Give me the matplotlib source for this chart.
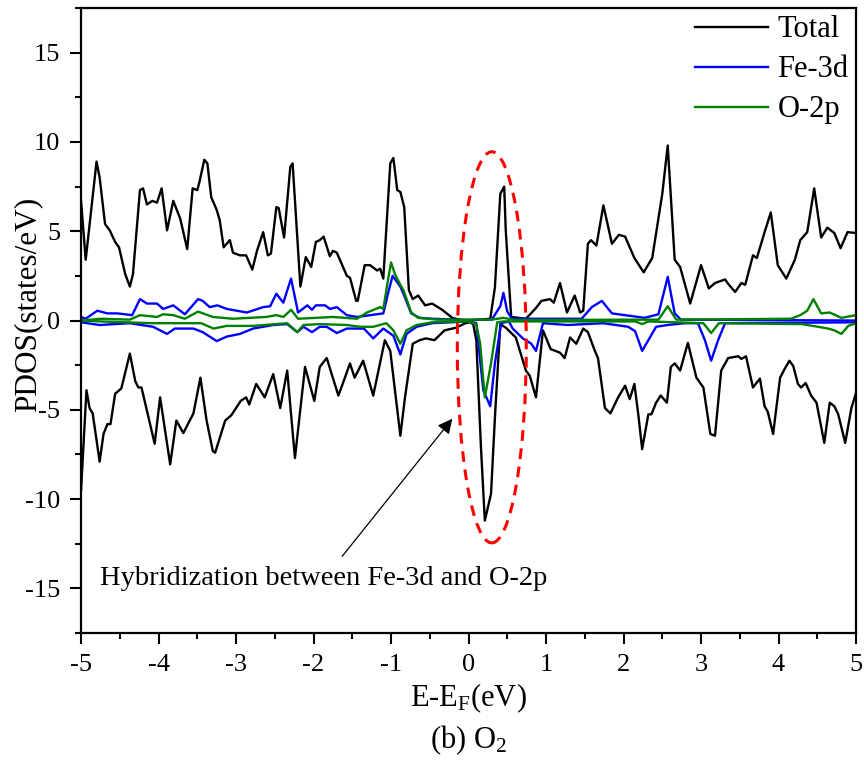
import numpy as np
import matplotlib
matplotlib.use("Agg")
import matplotlib.pyplot as plt
import matplotlib.ticker as mticker
from matplotlib.patches import Ellipse

plt.rcParams['font.family'] = ['Liberation Serif', 'DejaVu Serif']
plt.rcParams['mathtext.fontset'] = 'custom'
plt.rcParams['mathtext.rm'] = 'Liberation Serif'
plt.rcParams['mathtext.it'] = 'Liberation Serif:italic'

# ── Total DOS, spin up ─────────────────────────────────────────────
e_tot_up = [-5.00, -4.94, -4.80, -4.76, -4.69, -4.63, -4.56, -4.51, -4.43, -4.37,
            -4.33, -4.24, -4.20, -4.15, -4.08, -4.02, -3.96, -3.89, -3.81, -3.72,
            -3.63, -3.56, -3.50, -3.47, -3.41, -3.37, -3.32, -3.25, -3.21, -3.16,
            -3.08, -3.04, -2.95, -2.87, -2.79, -2.73, -2.65, -2.59, -2.55, -2.48,
            -2.45, -2.38, -2.30, -2.27, -2.17, -2.10, -2.03, -1.97, -1.92, -1.87,
            -1.79, -1.75, -1.70, -1.57, -1.53, -1.45, -1.43, -1.34, -1.27, -1.18,
            -1.14, -1.10, -1.01, -0.97, -0.92, -0.88, -0.83, -0.77, -0.72, -0.65,
            -0.56, -0.47, -0.34, -0.21, -0.10, 0.00, 0.28, 0.34, 0.41, 0.46,
            0.48, 0.55, 0.74, 0.87, 0.94, 1.05, 1.10, 1.18, 1.27, 1.37,
            1.44, 1.48, 1.54, 1.58, 1.65, 1.74, 1.85, 1.94, 2.02, 2.14,
            2.26, 2.37, 2.50, 2.57, 2.66, 2.73, 2.86, 3.00, 3.10, 3.18,
            3.31, 3.36, 3.44, 3.52, 3.57, 3.67, 3.72, 3.82, 3.90, 3.99,
            4.10, 4.21, 4.28, 4.37, 4.46, 4.55, 4.63, 4.72, 4.80, 4.89, 5.00]
tot_up = [6.7, 3.4, 8.9, 8.0, 5.4, 5.05, 4.4, 4.1, 2.6, 1.9,
          2.6, 7.3, 7.4, 6.5, 6.7, 6.6, 7.4, 5.05, 6.7, 5.7,
          4.0, 7.4, 7.3, 7.8, 9.0, 8.8, 6.9, 6.2, 5.6, 4.1,
          4.5, 3.8, 3.65, 3.65, 2.85, 3.9, 4.95, 3.65, 3.75, 6.35,
          6.3, 4.65, 8.6, 8.8, 1.9, 3.55, 3.0, 4.4, 4.5, 4.7,
          3.6, 3.9, 3.8, 2.5, 2.4, 1.1, 1.1, 3.1, 3.1, 2.8,
          2.9, 2.35, 8.8, 9.1, 7.3, 7.2, 6.35, 1.7, 1.2, 1.4,
          0.85, 0.95, 0.6, 0.15, 0.03, 0.0, 0.1, 1.85, 7.1, 7.5,
          5.05, 0.2, 0.1, 0.7, 1.1, 1.2, 1.0, 2.1, 0.45, 1.4,
          0.45, 0.55, 4.3, 4.5, 4.2, 6.45, 4.3, 4.8, 4.7, 3.5,
          2.7, 3.5, 7.1, 9.8, 3.4, 3.0, 0.95, 3.1, 1.8, 2.1,
          2.3, 2.0, 1.6, 2.1, 2.0, 3.65, 3.5, 4.95, 6.05, 3.1,
          2.35, 3.4, 4.5, 4.95, 7.4, 4.65, 5.2, 4.9, 4.05, 4.95, 4.9]

# ── Total DOS, spin down ───────────────────────────────────────────
e_tot_dn = [-5.00, -4.93, -4.89, -4.85, -4.76, -4.71, -4.66, -4.62, -4.56, -4.48,
            -4.37, -4.30, -4.26, -4.22, -4.05, -3.98, -3.85, -3.77, -3.68, -3.55,
            -3.46, -3.38, -3.30, -3.27, -3.14, -3.06, -2.94, -2.87, -2.83, -2.74,
            -2.63, -2.52, -2.43, -2.34, -2.24, -2.11, -1.99, -1.92, -1.83, -1.68,
            -1.62, -1.53, -1.47, -1.36, -1.23, -1.08, -1.01, -0.88, -0.82, -0.72,
            -0.63, -0.55, -0.44, -0.31, -0.16, -0.04, 0.02, 0.06, 0.10, 0.16,
            0.21, 0.29, 0.34, 0.41, 0.48, 0.61, 0.74, 0.79, 0.87, 0.96,
            1.06, 1.18, 1.24, 1.31, 1.39, 1.48, 1.54, 1.63, 1.67, 1.76,
            1.83, 1.93, 2.02, 2.08, 2.14, 2.19, 2.24, 2.32, 2.36, 2.42,
            2.48, 2.56, 2.61, 2.66, 2.73, 2.83, 2.94, 3.03, 3.12, 3.18,
            3.26, 3.35, 3.48, 3.52, 3.58, 3.67, 3.76, 3.82, 3.86, 3.93,
            4.02, 4.08, 4.14, 4.19, 4.25, 4.29, 4.35, 4.42, 4.49, 4.59,
            4.66, 4.72, 4.77, 4.86, 4.94, 5.00]
tot_dn = [-9.5, -3.9, -4.9, -5.2, -7.9, -6.35, -5.8, -5.8, -4.1, -3.8,
          -1.85, -3.4, -3.75, -3.75, -6.9, -4.3, -8.05, -5.6, -6.3, -5.2,
          -3.2, -5.6, -7.3, -7.4, -5.6, -5.3, -4.5, -4.3, -4.7, -3.55,
          -4.3, -3.0, -4.9, -2.8, -7.7, -2.6, -4.5, -2.6, -2.1, -4.2,
          -3.5, -2.4, -3.2, -2.25, -4.2, -1.1, -1.7, -6.45, -4.3, -1.3,
          -1.1, -1.0, -1.1, -0.55, -0.4, -0.15, -0.1, -0.2, -1.1, -7.1,
          -11.2, -9.7, -5.45, -0.2, -0.4, -0.95, -2.8, -3.1, -4.3, -0.55,
          -1.6, -1.8, -2.1, -0.95, -1.3, -0.45, -0.65, -1.7, -2.1, -4.9,
          -5.2, -4.3, -3.65, -4.4, -3.55, -5.25, -7.2, -5.25, -5.25, -4.6,
          -4.2, -4.6, -2.6, -2.4, -2.8, -1.25, -3.2, -3.75, -6.35, -6.45,
          -2.8, -2.1, -2.0, -2.15, -2.0, -3.75, -3.25, -4.8, -5.1, -6.35,
          -3.2, -2.7, -2.25, -2.55, -3.55, -3.75, -3.5, -4.2, -4.6, -6.85,
          -4.6, -4.8, -5.25, -6.85, -4.9, -4.05]

# ── Fe-3d ──────────────────────────────────────────────────────────
e_fe_up = [-5.00, -4.94, -4.79, -4.66, -4.53, -4.34, -4.24, -4.15, -4.02, -3.94,
           -3.81, -3.66, -3.49, -3.43, -3.34, -3.24, -3.12, -2.86, -2.65, -2.56,
           -2.48, -2.39, -2.29, -2.20, -2.08, -2.02, -1.97, -1.85, -1.79, -1.70,
           -1.57, -1.44, -1.27, -1.10, -1.04, -0.98, -0.88, -0.84, -0.74, -0.63,
           -0.47, 0.00, 0.30, 0.41, 0.45, 0.50, 0.56, 1.46, 1.59, 1.72,
           1.85, 2.02, 2.27, 2.45, 2.57, 2.66, 2.74, 5.00]
fe_up = [0.2, 0.1, 0.55, 0.4, 0.4, 0.3, 1.2, 0.95, 0.95, 0.65,
         0.85, 0.35, 1.2, 1.1, 0.75, 0.85, 0.65, 0.45, 0.75, 0.8,
         1.5, 1.0, 2.35, 0.45, 0.85, 0.6, 0.85, 0.85, 0.65, 0.75,
         0.3, 0.2, 0.3, 0.4, 1.5, 2.5, 1.9, 1.5, 0.4, 0.15,
         0.1, 0.03, 0.05, 0.8, 1.55, 0.5, 0.1, 0.1, 0.75, 1.1,
         0.4, 0.3, 0.15, 0.35, 2.45, 0.4, 0.05, 0.0]

e_fe_dn = [-5.00, -4.76, -4.37, -4.07, -3.98, -3.89, -3.79, -3.55, -3.43, -3.25,
           -3.12, -2.95, -2.78, -2.52, -2.34, -2.21, -2.13, -2.02, -1.92, -1.83,
           -1.70, -1.57, -1.35, -1.23, -1.10, -0.97, -0.88, -0.80, -0.67, -0.47,
           0.00, 0.10, 0.19, 0.28, 0.34, 0.42, 0.52, 0.57, 0.70, 0.81,
           0.87, 0.96, 1.28, 1.74, 2.06, 2.15, 2.24, 2.32, 2.42, 2.57,
           2.79, 2.96, 3.05, 3.13, 3.22, 3.31, 5.00]
fe_dn = [-0.1, -0.25, -0.15, -0.35, -0.55, -0.75, -0.45, -0.45, -0.65, -1.15,
         -0.9, -0.75, -0.45, -0.25, -0.2, -0.65, -0.35, -0.65, -0.35, -0.35,
         -0.7, -0.45, -0.45, -1.0, -0.45, -0.85, -1.9, -0.75, -0.35, -0.15,
         -0.05, -0.15, -3.9, -4.8, -2.4, -0.15, -0.05, -0.45, -1.0, -1.3,
         -1.7, -0.15, -0.25, -0.15, -0.35, -0.6, -1.7, -1.1, -0.35, -0.25,
         -0.15, -0.15, -1.1, -2.25, -1.1, -0.15, -0.1]

# ── O-2p ───────────────────────────────────────────────────────────
e_o_up = [-5.00, -4.75, -4.37, -4.24, -4.02, -3.94, -3.81, -3.66, -3.49, -3.30,
          -3.04, -2.61, -2.48, -2.39, -2.29, -2.20, -1.97, -1.75, -1.44, -1.31,
          -1.14, -1.10, -1.04, -1.00, -0.95, -0.88, -0.84, -0.74, -0.65, -0.40,
          0.30, 0.45, 0.60, 2.45, 2.57, 2.68, 4.16, 4.28, 4.37, 4.45,
          4.55, 4.66, 4.81, 5.00]
o_up = [0.0, 0.1, 0.05, 0.3, 0.2, 0.35, 0.3, 0.1, 0.5, 0.2,
        0.1, 0.2, 0.3, 0.2, 0.6, 0.1, 0.15, 0.2, 0.1, 0.45,
        0.75, 0.65, 2.25, 3.25, 2.6, 2.0, 1.7, 0.45, 0.15, 0.05,
        0.05, 0.15, 0.03, 0.05, 0.8, 0.05, 0.1, 0.3, 0.55, 1.2,
        0.4, 0.45, 0.15, 0.3]

e_o_dn = [-5.00, -4.75, -4.08, -3.45, -3.29, -3.12, -2.78, -2.34, -2.21, -2.13,
          -1.92, -1.57, -1.40, -1.23, -1.06, -0.97, -0.88, -0.80, -0.67, -0.47,
          0.00, 0.10, 0.15, 0.21, 0.29, 0.37, 0.45, 2.15, 2.24, 2.32,
          3.03, 3.13, 3.23, 4.30, 4.51, 4.64, 4.72, 4.81, 4.90, 5.00]
o_dn = [0.0, -0.05, -0.15, -0.15, -0.45, -0.3, -0.3, -0.15, -0.65, -0.25,
        -0.2, -0.25, -0.35, -0.35, -0.15, -0.55, -1.3, -0.55, -0.25, -0.1,
        -0.05, -0.2, -1.3, -4.3, -2.4, -0.1, -0.05, -0.05, -0.2, -0.05,
        -0.15, -0.7, -0.15, -0.2, -0.35, -0.45, -0.55, -0.75, -0.3, -0.15]

fig = plt.figure(figsize=(8.64, 7.6), dpi=100)
ax = fig.add_axes([0.0938, 0.167, 0.897, 0.8225])

lw = 1.7
ax.plot(e_tot_up, tot_up, color='black', lw=lw, label='Total')
ax.plot(e_tot_dn, tot_dn, color='black', lw=lw)
ax.plot(e_fe_up, fe_up, color='#0000ff', lw=lw, label='Fe-3d')
ax.plot(e_fe_dn, fe_dn, color='#0000ff', lw=lw)
ax.plot(e_o_up, o_up, color='#008000', lw=lw, label='O-2p')
ax.plot(e_o_dn, o_dn, color='#008000', lw=lw)

# dashed ellipse around the hybridization region
ell = Ellipse((0.30, -1.5), 0.89, 21.9, fill=False, edgecolor='#ff0000',
              lw=2.2, linestyle=(0, (3.5, 2.5)), zorder=6)
ax.add_patch(ell)

ax.annotate('', xy=(-0.21, -5.5), xytext=(-1.63, -13.2),
            arrowprops=dict(arrowstyle='-|>', color='black', lw=0.9,
                            mutation_scale=22, shrinkA=0, shrinkB=0))
ax.text(-4.755, -14.78, 'Hybridization between Fe-3d and O-2p',
        fontsize=20.5, va='baseline', ha='left')

ax.set_xlim(-5, 5)
ax.set_ylim(-17.5, 17.5)
ax.xaxis.set_major_locator(mticker.MultipleLocator(1))
ax.xaxis.set_minor_locator(mticker.MultipleLocator(0.5))
ax.yaxis.set_major_locator(mticker.FixedLocator([-15, -10, -5, 0, 5, 10, 15]))
ax.yaxis.set_minor_locator(mticker.FixedLocator([-17.5, -12.5, -7.5, -2.5, 2.5, 7.5, 12.5, 17.5]))
ax.xaxis.set_major_formatter(mticker.FuncFormatter(lambda v, p: f'{v:g}'))
ax.yaxis.set_major_formatter(mticker.FuncFormatter(lambda v, p: f'{v:g}'))

ax.tick_params(which='both', direction='out', top=False, right=False,
               width=1.5, labelsize=19)
ax.tick_params(which='major', length=8, pad=7)
ax.tick_params(which='minor', length=4.5)
for s in ax.spines.values():
    s.set_linewidth(1.6)

fig.text(0.0324, 0.599, 'PDOS(states/eV)', fontsize=22.5, rotation=90,
         ha='center', va='center')
fig.text(0.5425, 0.071, r'E-E$_\mathrm{F}$(eV)', fontsize=22, ha='center', va='baseline')
fig.text(0.5425, 0.016, r'(b) O$_\mathrm{2}$', fontsize=22, ha='center', va='baseline')

ax.legend(loc='upper right', frameon=False, fontsize=22, handlelength=2.4,
          handletextpad=0.3, labelspacing=0.36, borderaxespad=0.0,
          bbox_to_anchor=(1.006, 1.008))

fig.savefig('out.png', dpi=100)
